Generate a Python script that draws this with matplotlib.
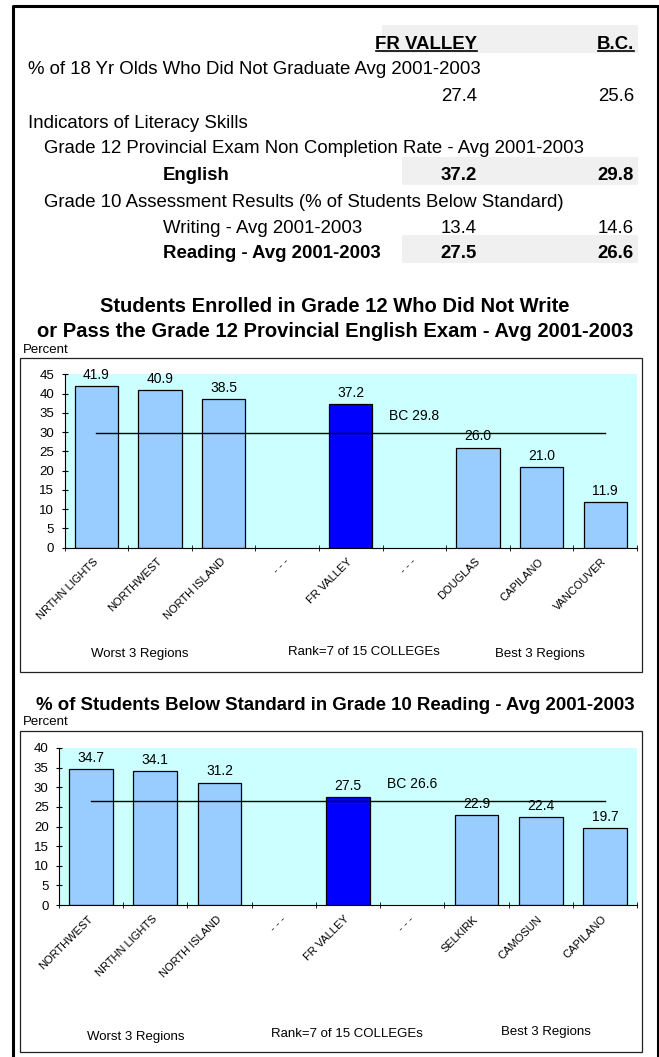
import matplotlib.pyplot as plt
from matplotlib.patches import Rectangle
from matplotlib.lines import Line2D

plt.rcParams['font.family'] = ['Liberation Sans', 'DejaVu Sans']

# ---- data ----
table_rows = ['% of 18 Yr Olds Who Did Not Graduate Avg 2001-2003',
              '',
              'Indicators of Literacy Skills',
              'Grade 12 Provincial Exam Non Completion Rate - Avg 2001-2003',
              'English',
              'Grade 10 Assessment Results (% of Students Below Standard)',
              'Writing - Avg 2001-2003',
              'Reading - Avg 2001-2003']
fr_valley_vals = [None, 27.4, None, None, 37.2, None, 13.4, 27.5]
bc_vals = [None, 25.6, None, None, 29.8, None, 14.6, 26.6]

eng_title = ['Students Enrolled in Grade 12 Who Did Not Write',
             'or Pass the Grade 12 Provincial English Exam - Avg 2001-2003']
eng_colleges = ['NRTHN LIGHTS', 'NORTHWEST', 'NORTH ISLAND', '- - -', 'FR VALLEY',
                '- - -', 'DOUGLAS', 'CAPILANO', 'VANCOUVER']
eng_values = [41.9, 40.9, 38.5, None, 37.2, None, 26.0, 21.0, 11.9]
eng_bc = 29.8

read_title = ['% of Students Below Standard in Grade 10 Reading - Avg 2001-2003']
read_colleges = ['NORTHWEST', 'NRTHN LIGHTS', 'NORTH ISLAND', '- - -', 'FR VALLEY',
                 '- - -', 'SELKIRK', 'CAMOSUN', 'CAPILANO']
read_values = [34.7, 34.1, 31.2, None, 27.5, None, 22.9, 22.4, 19.7]
read_bc = 26.6

group_labels = ['Worst 3 Regions', 'Rank=7 of 15 COLLEGEs', 'Best 3 Regions']

# ---- layout (pixels) ----
W, H = 659, 1057
fig = plt.figure(figsize=(W / 100, H / 100), dpi=100)


def fx(x):
    return x / W


def fy(y):
    return 1 - y / H


def txt(x, y, s, fs, ha='left', bold=False):
    # y is the middle of the capitals
    cap = fs * 100 / 72 * 0.716
    fig.text(fx(x), fy(y + cap / 2), s, ha=ha, va='baseline', fontsize=fs,
             fontweight='bold' if bold else 'normal')


def rect(x0, y0, x1, y1, **kw):
    fig.add_artist(Rectangle((fx(x0), fy(y1)), (x1 - x0) / W, (y1 - y0) / H,
                             transform=fig.transFigure, **kw))


# outer frame
fig.add_artist(Line2D([fx(12.8), fx(12.8), fx(657.5), fx(657.5)],
                      [fy(1070), fy(5.8), fy(5.8), fy(1070)],
                      transform=fig.transFigure, color='black', lw=2.2))

# ---- summary table ----
fs_tab = 13.4
shade = '#F0F0F0'
rect(382, 25, 638, 53, color=shade, lw=0)
txt(477, 42, 'FR VALLEY', fs_tab, ha='right', bold=True)
txt(634, 42, 'B.C.', fs_tab, ha='right', bold=True)
for a, b in [(376, 477), (598, 634)]:
    fig.add_artist(Line2D([fx(a), fx(b)], [fy(50.5), fy(50.5)],
                          transform=fig.transFigure, color='black', lw=1.2))

row_y = [67, 94, 121, 146, 173, 200, 226, 251]
row_x = [28.5, 28.5, 28.5, 44, 162.6, 44, 162.6, 162.6]
row_bold = [False, False, False, False, True, False, False, True]
for i, label in enumerate(table_rows):
    y = row_y[i]
    if row_bold[i]:
        rect(402, y - 16, 638, y + 12, color=shade, lw=0)
    if label:
        txt(row_x[i], y, label, fs_tab, bold=row_bold[i])
    if fr_valley_vals[i] is not None:
        txt(477, y, f'{fr_valley_vals[i]:.1f}', fs_tab, ha='right', bold=row_bold[i])
        txt(634, y, f'{bc_vals[i]:.1f}', fs_tab, ha='right', bold=row_bold[i])


# ---- bar charts ----
def chart(title, title_fs, title_y, percent_y, box_top, box_bot, left, y0, ytop,
          names, values, bc, ymax, group_x, group_y):
    for line, ty in zip(title, title_y):
        txt(335, ty, line, title_fs, ha='center', bold=True)
    txt(23, percent_y, 'Percent', 9.5)
    rect(20, box_top, 642, box_bot, fill=False, ec='#222222', lw=0.9)

    ax = fig.add_axes([fx(left), fy(y0), (637 - left) / W, (y0 - ytop) / H])
    ax.set_facecolor('#CCFFFF')
    xs = [i + 0.5 for i, v in enumerate(values) if v is not None]
    hs = [v for v in values if v is not None]
    cols = ['#0000FF' if names[i] == 'FR VALLEY' else '#99CCFF'
            for i, v in enumerate(values) if v is not None]
    ax.bar(xs, hs, width=0.68, color=cols, edgecolor='black', linewidth=0.9, zorder=2)
    for x, h in zip(xs, hs):
        ax.annotate(f'{h:.1f}', (x, h), xytext=(0, 3), textcoords='offset points',
                    ha='center', va='bottom', fontsize=10)
    ax.plot([0.5, len(names) - 0.5], [bc, bc], color='black', lw=1, zorder=3)
    ax.annotate(f'BC {bc}', (5.5, bc), xytext=(0, 12), textcoords='offset points',
                ha='center', va='center', fontsize=10)

    ax.set_xlim(0, len(names))
    ax.set_ylim(0, ymax)
    ax.set_yticks(range(0, ymax + 1, 5))
    ax.set_xticks([i + 0.5 for i in range(len(names))])
    ax.set_xticklabels(names, rotation=45, ha='right', va='center',
                       rotation_mode='anchor', fontsize=8)
    ax.set_xticks(range(len(names) + 1), minor=True)
    ax.tick_params(axis='x', which='major', length=0, pad=9)
    ax.tick_params(axis='x', which='minor', direction='inout', length=5)
    ax.tick_params(axis='y', direction='inout', length=5, labelsize=9.5, pad=5)
    for s in ['top', 'right']:
        ax.spines[s].set_visible(False)

    for lab, gx, gy in zip(group_labels, group_x, group_y):
        txt(gx, gy, lab, 9.5, ha='center')


chart(eng_title, 14.5, [305, 330], 348, 358, 672, 64.5, 547.5, 374.5,
      eng_colleges, eng_values, eng_bc, 45, [140, 364, 540], [652, 650, 652])
chart(read_title, 13.4, [703], 720, 731, 1052, 59, 905, 748,
      read_colleges, read_values, read_bc, 40, [136, 347, 546], [1035, 1032, 1030])

fig.savefig('out.png', dpi=100)
